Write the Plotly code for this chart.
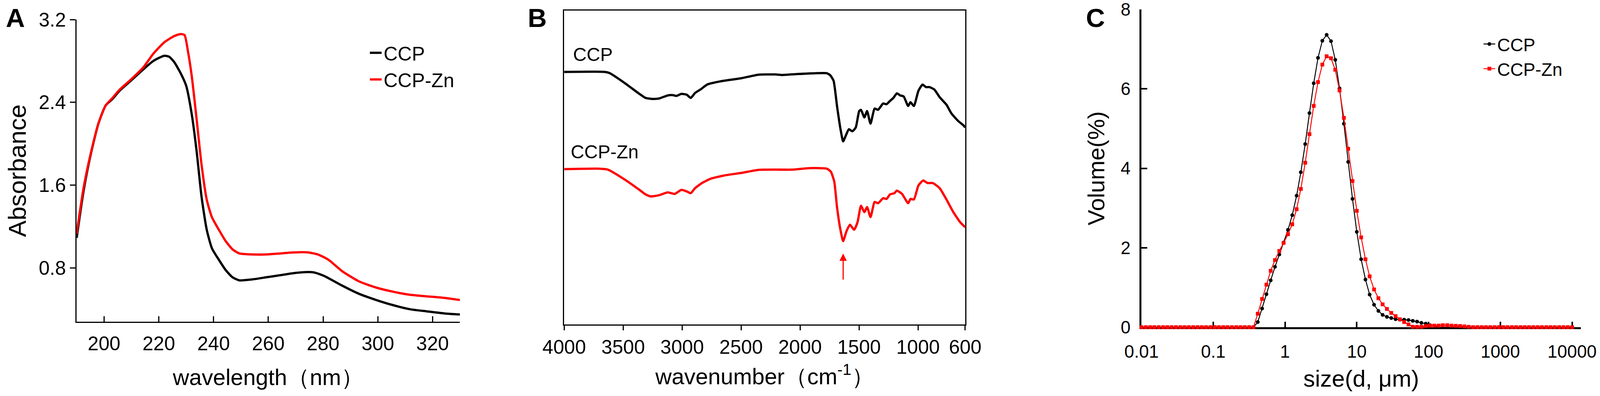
import plotly.graph_objects as go

# ---- panel A: UV spectra ----
wl_ccp = [190, 192.5, 195, 198, 200.6, 203, 205.6, 209.4, 214.4, 218, 222, 223.8, 225.6, 228, 230, 232,
          233.8, 235.6, 237.5, 239.4, 241.9, 244.4, 246.9, 249.4, 254.4, 259.4, 264.4, 269.4, 274.4,
          276.9, 280.6, 286.9, 293.1, 299.4, 305.6, 311.9, 318, 324.4, 330]
abs_ccp = [1.09, 1.54, 1.88, 2.20, 2.37, 2.43, 2.51, 2.60, 2.72, 2.80, 2.85, 2.84, 2.79, 2.68, 2.56, 2.29,
           1.93, 1.49, 1.17, 0.99, 0.88, 0.78, 0.71, 0.68, 0.69, 0.71, 0.73, 0.75, 0.76,
           0.755, 0.72, 0.63, 0.55, 0.49, 0.44, 0.40, 0.38, 0.36, 0.35]
wl_zn = [190, 192.5, 195, 198, 200.6, 203, 205.6, 209.4, 214.4, 218, 222, 225.6, 228, 229.4, 230.6, 232,
         233.8, 235.6, 237.5, 239.4, 241.9, 244.4, 246.9, 249.4, 254.4, 259.4, 264.4, 269.4, 274.4,
         278.1, 281.9, 286.9, 293.1, 299.4, 305.6, 311.9, 318, 324.4, 330]
abs_zn = [1.13, 1.57, 1.89, 2.20, 2.37, 2.44, 2.52, 2.61, 2.74, 2.87, 2.98, 3.04, 3.06, 3.05, 2.90, 2.66,
          2.24, 1.80, 1.46, 1.29, 1.17, 1.06, 0.98, 0.94, 0.93, 0.93, 0.94, 0.95, 0.95,
          0.93, 0.88, 0.77, 0.67, 0.61, 0.57, 0.54, 0.525, 0.51, 0.49]
a_ticks = [200, 220, 240, 260, 280, 300, 320]
a_yticks = [0.8, 1.6, 2.4, 3.2]

# ---- panel B: FTIR (offset, arbitrary units) ----
wn_ccp = [4000, 3658, 3614, 3484, 3368, 3310, 3252, 3194, 3122, 3078, 3049, 3006, 2962, 2927, 2890, 2846,
          2788, 2672, 2499, 2354, 2209, 2151, 2006, 1774, 1745, 1716, 1687, 1658, 1635, 1615, 1586, 1557,
          1528, 1499, 1484, 1455, 1432, 1403, 1368, 1339, 1296, 1267, 1238, 1209, 1180, 1151, 1122, 1084,
          1064, 1035, 997, 962, 933, 904, 861, 817, 759, 716, 658, 614, 600]
tr_ccp = [80.45, 80.45, 80.05, 76.83, 73.61, 72.16, 71.84, 72.00, 72.97, 73.05, 72.81, 73.45, 73.21, 72.16,
          73.77, 74.82, 76.43, 77.47, 78.44, 79.57, 79.65, 79.48, 79.81, 80.05, 79.40, 77.63, 69.59, 62.35,
          58.33, 59.94, 62.19, 61.54, 62.75, 67.98, 68.38, 65.97, 67.98, 63.96, 68.78, 68.38, 70.39, 70.15,
          71.20, 72.16, 73.61, 72.97, 72.65, 69.59, 70.80, 69.59, 74.42, 76.43, 75.62, 75.62, 74.82, 72.41,
          70.01, 67.18, 64.76, 63.40, 62.75]
wn_zn = [4000, 3716, 3629, 3484, 3368, 3310, 3267, 3194, 3122, 3064, 3006, 2962, 2927, 2890, 2832, 2759,
         2643, 2499, 2354, 2209, 2064, 1919, 1774, 1739, 1710, 1687, 1658, 1635, 1606, 1577, 1542, 1513,
         1484, 1455, 1432, 1403, 1368, 1339, 1296, 1267, 1238, 1200, 1180, 1136, 1084, 1064, 1035, 997,
         957, 919, 875, 817, 759, 701, 643, 600]
tr_zn = [49.48, 49.64, 49.32, 46.10, 43.04, 41.43, 40.79, 41.19, 42.08, 41.59, 42.88, 42.40, 41.83, 43.44,
         45.05, 46.42, 47.47, 48.27, 49.24, 49.32, 49.32, 49.80, 49.64, 48.67, 45.45, 37.41, 30.17, 26.55,
         29.77, 31.78, 30.17, 32.58, 37.81, 35.80, 37.41, 34.19, 39.02, 38.62, 40.23, 39.98, 41.43, 41.83,
         42.64, 41.59, 38.62, 39.98, 39.82, 44.25, 45.86, 45.05, 45.05, 43.44, 39.82, 35.80, 32.58, 30.97]
b_ticks = [4000, 3500, 3000, 2500, 2000, 1500, 1000, 600]
arrow_wn = 1635

# ---- panel C: particle size distribution ----
size_um = [0.01, 0.0115, 0.0132, 0.0151, 0.0174, 0.02, 0.0229, 0.0263, 0.0302, 0.0347,
           0.0398, 0.0457, 0.0525, 0.0603, 0.0692, 0.0794, 0.0912, 0.105, 0.12, 0.138,
           0.158, 0.182, 0.209, 0.24, 0.275, 0.316, 0.363, 0.417, 0.479, 0.55,
           0.631, 0.724, 0.832, 0.955, 1.1, 1.26, 1.45, 1.66, 1.91, 2.19,
           2.51, 2.88, 3.31, 3.8, 4.37, 5.01, 5.75, 6.61, 7.59, 8.71,
           10.0, 11.5, 13.2, 15.1, 17.4, 20.0, 22.9, 26.3, 30.2, 34.7,
           39.8, 45.7, 52.5, 60.3, 69.2, 79.4, 91.2, 105, 120, 138,
           158, 182, 209, 240, 275, 316, 363, 417, 479, 550,
           631, 724, 832, 955, 1100, 1260, 1450, 1660, 1910, 2190,
           2510, 2880, 3310, 3800, 4370, 5010, 5750, 6610, 7590, 8710, 10000]
vol_ccp = [0, 0, 0, 0, 0, 0, 0, 0, 0, 0,
           0, 0, 0, 0, 0, 0, 0, 0, 0, 0,
           0, 0, 0, 0, 0, 0, 0, 0.13, 0.47, 0.83,
           1.18, 1.52, 1.83, 2.13, 2.45, 2.82, 3.31, 3.90, 4.61, 5.39,
           6.14, 6.78, 7.21, 7.36, 7.20, 6.73, 6.01, 5.12, 4.16, 3.23,
           2.40, 1.71, 1.20, 0.82, 0.565, 0.41, 0.31, 0.26, 0.23, 0.20,
           0.19, 0.19, 0.18, 0.16, 0.14, 0.11, 0.09, 0.05, 0.02, 0,
           0, 0, 0, 0, 0, 0, 0, 0, 0, 0,
           0, 0, 0, 0, 0, 0, 0, 0, 0, 0,
           0, 0, 0, 0, 0, 0, 0, 0, 0, 0, 0]
vol_zn = [0, 0, 0, 0, 0, 0, 0, 0, 0, 0,
          0, 0, 0, 0, 0, 0, 0, 0, 0, 0,
          0, 0, 0, 0, 0, 0, 0, 0.34, 0.71, 1.07,
          1.42, 1.69, 1.92, 2.12, 2.34, 2.59, 2.97, 3.48, 4.14, 4.86,
          5.57, 6.17, 6.61, 6.82, 6.77, 6.48, 5.96, 5.27, 4.49, 3.68,
          2.93, 2.26, 1.71, 1.28, 0.95, 0.73, 0.575, 0.46, 0.36, 0.28,
          0.20, 0.13, 0.07, 0.01, 0.01, 0.01, 0.03, 0.04, 0.04, 0.04,
          0.05, 0.05, 0.04, 0.035, 0.03, 0.02, 0.01, 0, 0, 0,
          0, 0, 0, 0, 0, 0, 0, 0, 0, 0,
          0, 0, 0, 0, 0, 0, 0, 0, 0, 0, 0]
c_ticks = [0.01, 0.1, 1, 10, 100, 1000, 10000]
c_ticktext = ["0.01", "0.1", "1", "10", "100", "1000", "10000"]

FONT = "Liberation Sans, Arial, sans-serif"

# positions below are read in pixels of the 4328x1013 reference;
# the page body keeps its 8px margin, so they are converted to paper fractions
BODY = 8
FW, FH = 4328 - 2 * BODY, 1013 - 2 * BODY
# the page renders a little larger than css pixels, so sizes are scaled down
S = 0.963


def px(x):
    return (x - BODY) / FW


def py(y):
    return 1 - (y - BODY) / FH


def f(size):
    return dict(family=FONT, size=round(size * S, 1), color="black")


fig = go.Figure()

# A
fig.add_trace(go.Scatter(x=wl_ccp, y=abs_ccp, name="CCP", mode="lines",
                         line=dict(color="black", width=6 * S, shape="spline", smoothing=0.6),
                         xaxis="x", yaxis="y", legend="legend"))
fig.add_trace(go.Scatter(x=wl_zn, y=abs_zn, name="CCP-Zn", mode="lines",
                         line=dict(color="#ff0000", width=6 * S, shape="spline", smoothing=0.6),
                         xaxis="x", yaxis="y", legend="legend"))

# B
fig.add_trace(go.Scatter(x=wn_ccp, y=tr_ccp, mode="lines",
                         line=dict(color="black", width=6 * S, shape="spline", smoothing=0.5),
                         xaxis="x2", yaxis="y2", showlegend=False))
fig.add_trace(go.Scatter(x=wn_zn, y=tr_zn, mode="lines",
                         line=dict(color="#ff0000", width=6 * S, shape="spline", smoothing=0.5),
                         xaxis="x2", yaxis="y2", showlegend=False))

# C
fig.add_trace(go.Scatter(x=size_um, y=vol_ccp, name="CCP", mode="lines+markers",
                         line=dict(color="black", width=2.5 * S),
                         marker=dict(symbol="circle", size=10 * S, color="black"),
                         xaxis="x3", yaxis="y3", legend="legend2", cliponaxis=False))
fig.add_trace(go.Scatter(x=size_um, y=vol_zn, name="CCP-Zn", mode="lines+markers",
                         line=dict(color="#ff0000", width=2.5 * S),
                         marker=dict(symbol="square", size=10 * S, color="#ff0000"),
                         xaxis="x3", yaxis="y3", legend="legend2", cliponaxis=False))

fig.update_layout(
    autosize=True,
    margin=dict(l=0, r=0, t=0, b=0, autoexpand=False),
    paper_bgcolor="white", plot_bgcolor="white",
    font=dict(family=FONT, color="black"),
    xaxis=dict(domain=[px(207), px(1244)], range=[190, 330], tickvals=a_ticks, automargin=False,
               showline=True, linecolor="black", linewidth=3 * S, ticks="inside", ticklen=15 * S,
               tickwidth=3 * S, tickcolor="black", showgrid=False, zeroline=False, tickfont=f(52),
               ticklabelstandoff=10, ticklabeloverflow="allow",
               title=dict(text="wavelength（nm）", font=f(60), standoff=40 * S),
               anchor="y"),
    yaxis=dict(domain=[py(823), py(50)], range=[0.28, 3.2], tickvals=a_yticks, automargin=False,
               ticktext=["0.8", "1.6", "2.4", "3.2"], ticklabeloverflow="allow",
               showline=True, linecolor="black", linewidth=3 * S, ticks="outside", ticklen=15 * S,
               tickwidth=3 * S, tickcolor="black", showgrid=False, zeroline=False, tickfont=f(52),
               title=dict(text="Absorbance", font=f(66), standoff=36 * S),
               anchor="x"),
    xaxis2=dict(domain=[px(1526), px(2611)], range=[4000, 600], tickvals=b_ticks, automargin=False,
                showline=True, mirror=True, linecolor="black", linewidth=3 * S, ticks="outside",
                ticklen=12 * S, tickwidth=3 * S, tickcolor="black", showgrid=False, zeroline=False,
                tickfont=f(52), ticklabeloverflow="allow",
                title=dict(text="wavenumber（cm<sup>-1</sup>）", font=f(60), standoff=30 * S),
                anchor="y2"),
    yaxis2=dict(domain=[py(830), py(27)], range=[0, 100], showticklabels=False, ticks="", automargin=False,
                showline=True, mirror=True, linecolor="black", linewidth=3 * S, showgrid=False,
                zeroline=False, anchor="x2"),
    xaxis3=dict(domain=[px(3088), px(4277)], type="log", range=[-2, 4.124], tickvals=c_ticks,
                ticktext=c_ticktext, automargin=False, showline=True, linecolor="black", linewidth=5 * S,
                ticks="inside", ticklen=15 * S, tickwidth=4 * S, tickcolor="black", showgrid=False,
                zeroline=False, tickfont=f(47), ticklabelstandoff=19, layer="below traces",
                ticklabeloverflow="allow",
                title=dict(text="size(d, μm)", font=f(62), standoff=25 * S),
                anchor="y3"),
    yaxis3=dict(domain=[py(837), py(24)], range=[0, 8], dtick=2, automargin=False, showline=True,
                linecolor="black", linewidth=5 * S, ticks="inside", ticklen=15 * S, tickwidth=4 * S,
                tickcolor="black", showgrid=False, zeroline=False, tickfont=f(47),
                ticklabelstandoff=14, layer="below traces", ticklabeloverflow="allow",
                title=dict(text="Volume(%)", font=f(62), standoff=25 * S),
                anchor="x3"),
    legend=dict(x=px(995), y=py(96), xanchor="left", yanchor="top", bgcolor="rgba(0,0,0,0)",
                font=f(52), tracegroupgap=0),
    legend2=dict(x=px(4008), y=py(76), xanchor="left", yanchor="top", bgcolor="rgba(0,0,0,0)",
                 font=f(48), tracegroupgap=0),
    showlegend=True,
)

# curve labels and band marker in B
fig.add_annotation(x=3933, y=86.1, xref="x2", yref="y2", text="CCP", showarrow=False, xanchor="left",
                   font=f(50))
fig.add_annotation(x=3950, y=55.1, xref="x2", yref="y2", text="CCP-Zn", showarrow=False, xanchor="left",
                   font=f(50))
fig.add_annotation(x=arrow_wn, y=22.6, xref="x2", yref="y2", ax=arrow_wn, ay=14.1, axref="x2", ayref="y2",
                   text="", showarrow=True, arrowhead=2, arrowsize=1.3, arrowwidth=3 * S,
                   arrowcolor="#ff0000")

# panel letters
for letter, lx in [("A", 41), ("B", 1453), ("C", 2963)]:
    fig.add_annotation(x=px(lx), y=py(46), xref="paper", yref="paper", text="<b>%s</b>" % letter,
                       showarrow=False, xanchor="center", yanchor="middle", font=f(70))

# the figure fills the window (less the body margin)
fig.write_html("out.html", default_width="calc(100vw - 16px)", default_height="calc(100vh - 16px)")
